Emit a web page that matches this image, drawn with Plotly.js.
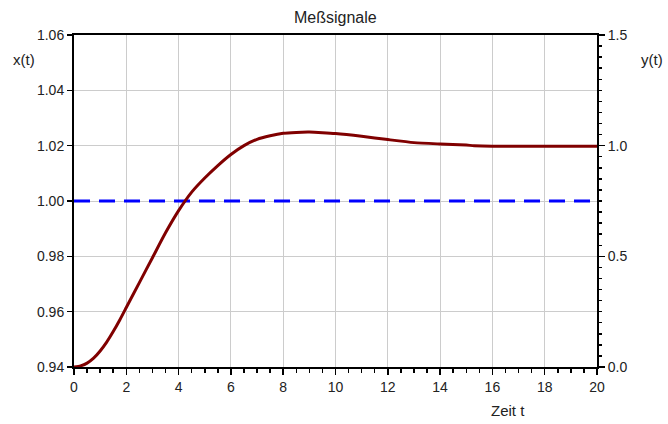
<!DOCTYPE html>
<html>
<head>
<meta charset="utf-8">
<script src="https://cdn.plot.ly/plotly-3.0.1.min.js"></script>
<style>html,body{margin:0;padding:0;background:#fff;}#chart{width:668px;height:424px;}</style>
</head>
<body>
<div id="chart"></div>
<script>
var timeT = [0, 0.25, 0.5, 0.75, 1, 1.25, 1.5, 1.75, 2, 2.5, 3, 3.5, 4, 4.5, 5, 5.5, 6, 6.5, 7, 7.5, 8, 8.5, 9, 9.5, 10, 11, 12, 13, 14, 15, 15.3, 16, 17, 18, 19, 20];
var xSignal = [0.9400, 0.9404, 0.9414, 0.9432, 0.9458, 0.9490, 0.9528, 0.9570, 0.9615, 0.9705, 0.9795, 0.9885, 0.9965, 1.0032, 1.0083, 1.0128, 1.0168, 1.0200, 1.0223, 1.0236, 1.0245, 1.0248, 1.0249, 1.0247, 1.0244, 1.0234, 1.0222, 1.0211, 1.0206, 1.0202, 1.0200, 1.0198, 1.0198, 1.0198, 1.0198, 1.0198];
var refT = [0, 20];
var refX = [1.00, 1.00];
var leftTicks = [0.94, 0.96, 0.98, 1.00, 1.02, 1.04, 1.06];
var rightTicks = [0.0, 0.5, 1.0, 1.5];
var bottomTicks = [0, 2, 4, 6, 8, 10, 12, 14, 16, 18, 20];

var font = 'Liberation Sans, Arial, sans-serif';

var traces = [
  {x: refT, y: refX, mode: 'lines', line: {color: '#0000ff', width: 3, dash: '16px,9px'}, xaxis: 'x', yaxis: 'y', hoverinfo: 'skip'},
  {x: timeT, y: xSignal, mode: 'lines', line: {color: '#800000', width: 3, shape: 'spline', smoothing: 0.6}, xaxis: 'x', yaxis: 'y'},
  {x: [0], y: [0], mode: 'markers', marker: {opacity: 0}, xaxis: 'x', yaxis: 'y2', hoverinfo: 'skip'}
];

var layout = {
  width: 668, height: 424,
  margin: {l: 74, r: 71, t: 35, b: 57},
  paper_bgcolor: '#fff', plot_bgcolor: '#fff',
  showlegend: false,
  font: {family: font, size: 14, color: '#222'},
  title: {text: 'Meßsignale', x: 0.502, xanchor: 'center', y: 0.96, yanchor: 'middle', font: {family: font, size: 16, color: '#222'}},
  xaxis: {
    range: [0, 20], tickvals: bottomTicks, ticktext: bottomTicks.map(String),
    showgrid: true, gridcolor: '#cccccc', gridwidth: 1,
    showline: true, linecolor: '#000', linewidth: 2, mirror: true,
    ticks: 'outside', ticklen: 6, tickwidth: 1.5, tickcolor: '#000',
    minor: {dtick: 0.5, ticks: 'outside', ticklen: 4, tickwidth: 1.5, tickcolor: '#000', showgrid: false},
    zeroline: false, tickfont: {size: 14}
  },
  yaxis: {
    range: [0.94, 1.06], tickvals: leftTicks, ticktext: leftTicks.map(function(v){return v.toFixed(2);}),
    showgrid: true, gridcolor: '#cccccc', gridwidth: 1,
    showline: true, linecolor: '#000', linewidth: 2,
    ticks: 'outside', ticklen: 5, tickwidth: 1.5, tickcolor: '#000',
    zeroline: false, tickfont: {size: 14}
  },
  yaxis2: {
    overlaying: 'y', side: 'right', range: [0, 1.5],
    tickvals: rightTicks, ticktext: rightTicks.map(function(v){return v.toFixed(1);}),
    showgrid: false, showline: true, linecolor: '#000', linewidth: 2,
    ticks: 'outside', ticklen: 6, tickwidth: 1.5, tickcolor: '#000',
    minor: {dtick: 0.05, ticks: 'outside', ticklen: 3, tickwidth: 1.5, tickcolor: '#000', showgrid: false},
    zeroline: false, tickfont: {size: 14}
  },
  annotations: [
    {text: 'x(t)', xref: 'paper', yref: 'paper', x: -0.096, y: 0.925, xanchor: 'center', yanchor: 'middle', showarrow: false, font: {size: 15, color: '#222'}},
    {text: 'y(t)', xref: 'paper', yref: 'paper', x: 1.105, y: 0.925, xanchor: 'center', yanchor: 'middle', showarrow: false, font: {size: 15, color: '#222'}},
    {text: 'Zeit t', xref: 'paper', yref: 'paper', x: 0.83, y: -0.13, xanchor: 'center', yanchor: 'middle', showarrow: false, font: {size: 15, color: '#222'}}
  ]
};

Plotly.newPlot('chart', traces, layout, {displayModeBar: false, staticPlot: true});
</script>
</body>
</html>
